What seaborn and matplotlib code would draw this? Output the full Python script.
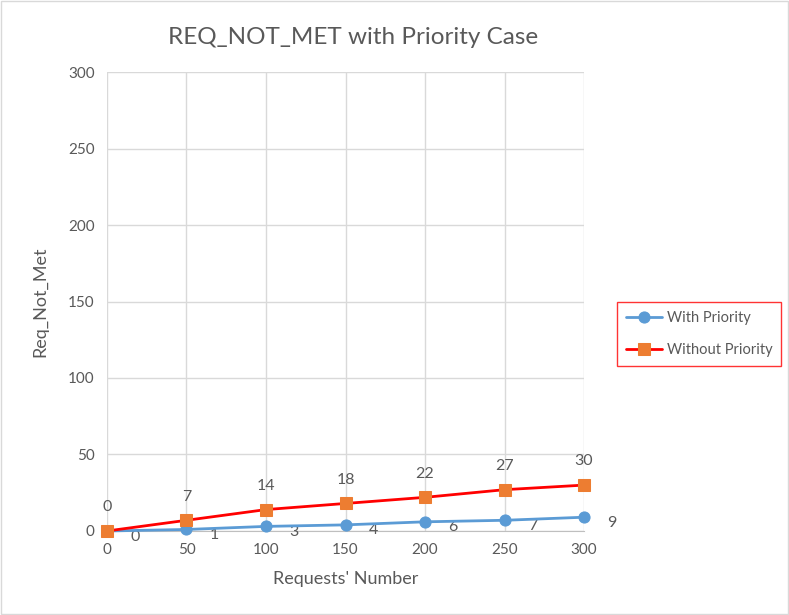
import pandas as pd
import matplotlib.pyplot as plt
import seaborn as sns

# Chart values
requests = [0, 50, 100, 150, 200, 250, 300]
with_priority = [0, 1, 3, 4, 6, 7, 9]
without_priority = [0, 7, 14, 18, 22, 27, 30]

sns.set_style('white')
plt.rcParams['font.family'] = ['Lato', 'DejaVu Sans']
grey = '#595959'

df = pd.DataFrame({'x': requests, 'with': with_priority, 'without': without_priority})

fig = plt.figure(figsize=(7.89, 6.15), dpi=100)
ax = fig.add_axes([0.1356, 0.1366, 0.6046, 0.7463])

sns.lineplot(data=df, x='x', y='with', ax=ax, color='#5B9BD5', lw=2,
             marker='o', markersize=8, label='With Priority')
sns.lineplot(data=df, x='x', y='without', ax=ax, color='#FF0000', lw=2,
             marker='s', markersize=8, label='Without Priority')
l1, l2 = ax.lines[0], ax.lines[1]
l1.set_markerfacecolor('#5B9BD5'); l1.set_markeredgecolor('#5B9BD5')
l2.set_markerfacecolor('#ED7D31'); l2.set_markeredgecolor('#ED7D31')
for l in (l1, l2):
    l.set_clip_on(False)
    l.set_zorder(5)

# data labels
for x, y in zip(requests, with_priority):
    ax.annotate(str(y), (x, y), xytext=(20, -4), textcoords='offset points',
                ha='center', va='center', fontsize=11.5, color=grey)
for x, y in zip(requests, without_priority):
    ax.annotate(str(y), (x, y), xytext=(0, 17), textcoords='offset points',
                ha='center', va='center', fontsize=11.5, color=grey)

ax.set_xlim(0, 300)
ax.set_ylim(0, 300)
ax.set_xticks(requests)
ax.set_yticks(range(0, 301, 50))
ax.grid(True, color='#d9d9d9', lw=1)
for s in ['top', 'right', 'left']:
    ax.spines[s].set_visible(False)
ax.spines['bottom'].set_color('#bfbfbf')
ax.tick_params(axis='both', length=0, labelsize=11, labelcolor=grey, pad=9)
ax.set_xlabel("Requests' Number", fontsize=13, color=grey, labelpad=10)
ax.set_ylabel('Req_Not_Met', fontsize=13, color=grey, labelpad=14)
ax.set_title('REQ_NOT_MET with Priority Case', fontsize=17.5, color=grey, pad=20, x=0.515)

leg = ax.legend(loc='center left', bbox_to_anchor=(1.069, 0.429), frameon=True,
                fontsize=10.5, handlelength=2.5, borderpad=0.6, labelspacing=1.25,
                fancybox=False, handletextpad=0.3, borderaxespad=0)
leg.get_frame().set_edgecolor('#FF0000')
leg.get_frame().set_linewidth(1)
for t in leg.get_texts():
    t.set_color(grey)

fig.patches.append(plt.Rectangle((0.001, 0.001), 0.998, 0.998, transform=fig.transFigure,
                                 fill=False, edgecolor='#d9d9d9', lw=1))
fig.savefig('out.png', dpi=100)
